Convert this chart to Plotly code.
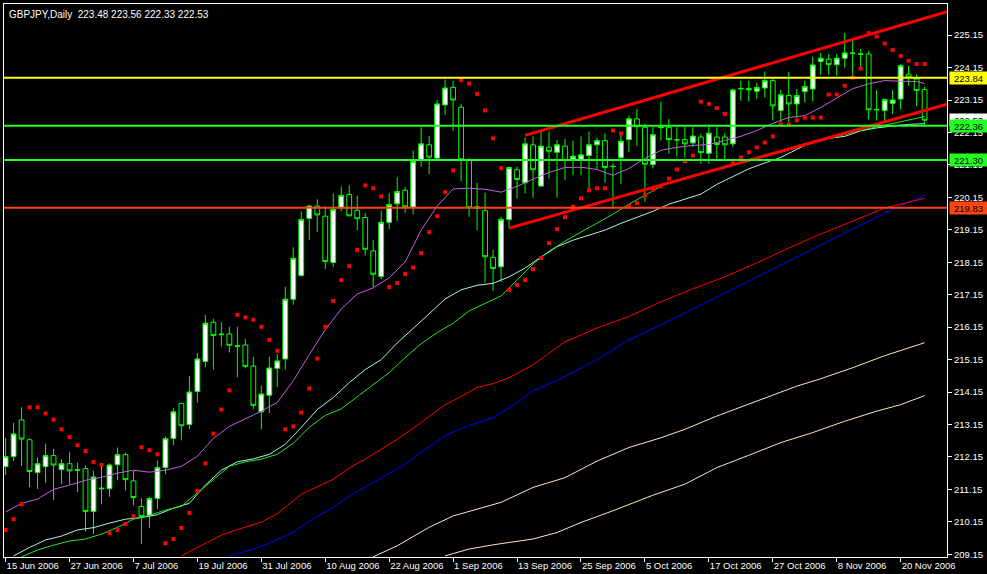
import plotly.graph_objects as go

# ---------------- data ----------------
bar_idx = list(range(116))

opens = [211.85,212.16,213.29,212.68,211.67,211.85,212.19,211.76,211.94,211.76,
         211.79,210.47,211.19,211.17,211.91,212.22,211.41,210.62,210.35,210.87,
         211.82,212.72,213.80,213.15,214.17,215.09,216.30,215.94,215.94,215.58,
         215.60,214.95,213.54,214.05,214.88,215.17,217.01,217.74,219.50,219.88,
         219.57,218.14,219.83,220.24,219.75,219.53,218.50,217.71,219.38,219.95,
         220.37,219.84,221.31,221.77,221.36,223.00,223.54,222.93,221.31,219.86,
         219.74,218.30,218.01,219.47,221.00,220.60,221.77,220.50,221.70,221.54,
         221.73,221.29,221.31,221.44,221.77,221.90,221.11,221.37,221.93,222.57,
         222.31,221.16,222.32,222.31,221.93,221.93,221.83,222.01,221.51,222.01,
         222.01,221.80,223.51,223.51,223.42,223.52,223.75,222.83,223.29,223.03,
         223.41,223.49,224.34,224.41,224.24,224.44,224.60,224.57,224.57,222.86,
         222.83,223.05,223.18,223.95,223.80,223.48]
highs = [212.74,213.20,213.68,212.72,212.13,212.56,212.40,212.08,212.31,211.97,
         211.89,211.72,211.92,211.95,212.44,212.28,211.72,210.88,210.91,212.04,
         212.78,213.66,213.82,214.65,215.36,216.53,216.41,216.30,216.16,216.16,
         215.79,215.24,214.35,215.24,215.32,217.39,218.61,219.72,219.93,220.09,
         219.88,220.27,220.49,220.52,220.21,219.67,218.83,219.75,220.27,220.77,
         220.47,221.60,222.31,222.05,223.15,223.78,223.75,223.03,221.37,220.60,
         220.30,218.53,219.55,221.10,221.10,222.00,222.03,222.23,222.18,221.92,
         221.95,221.90,222.03,222.18,221.99,222.13,221.20,222.13,222.67,222.88,
         222.42,222.33,223.10,222.57,222.31,222.33,222.31,222.11,222.40,222.31,
         222.13,223.50,223.75,223.75,223.68,224.03,223.81,223.46,224.02,223.49,
         223.75,224.48,224.60,224.57,224.57,225.21,225.01,224.72,224.67,223.46,
         223.20,223.46,224.25,224.21,223.95,223.56]
lows = [211.59,212.02,211.87,211.22,211.16,211.35,210.82,211.31,211.31,211.07,
        209.85,209.77,210.69,210.92,211.43,211.11,210.66,209.46,209.95,210.54,
        211.61,212.51,212.66,213.00,213.82,214.91,214.84,215.55,215.37,214.60,
        214.88,213.62,213.00,213.50,214.30,214.84,216.84,217.71,218.83,219.09,
        217.94,218.01,219.72,219.58,219.14,218.35,217.38,217.63,219.17,219.42,
        219.67,219.62,221.10,220.87,221.29,222.70,222.21,220.64,219.55,219.14,
        217.52,217.27,217.55,219.19,220.11,220.27,220.14,220.47,220.73,220.14,
        220.68,220.83,220.83,220.37,221.03,220.60,219.86,220.57,221.54,221.73,
        220.01,221.04,221.90,221.50,221.41,221.39,221.70,221.19,221.19,221.29,
        221.29,221.70,223.13,223.11,223.18,223.23,222.52,222.47,222.47,222.60,
        223.08,223.11,223.93,223.93,223.90,224.15,223.87,224.15,222.55,222.52,
        222.47,222.72,222.86,223.59,222.95,222.33]
closes = [212.16,212.86,212.70,211.70,211.94,212.19,211.90,211.94,211.72,211.74,
          210.47,211.53,211.17,211.90,212.22,211.45,210.90,210.31,210.87,211.82,
          212.71,213.54,213.11,214.15,215.17,216.27,215.89,215.92,215.59,215.56,
          214.94,213.74,214.09,214.89,215.11,217.01,218.27,219.47,219.88,219.61,
          218.17,219.78,220.21,219.58,219.49,218.55,217.78,219.38,219.93,220.33,
          219.86,221.26,221.80,221.39,223.03,223.52,223.15,221.31,219.83,219.81,
          218.32,217.96,219.47,221.07,220.70,221.80,221.00,221.73,221.57,221.77,
          221.29,221.42,221.46,221.77,221.90,221.07,221.10,221.88,222.57,222.33,
          221.17,222.08,222.30,221.93,221.92,221.80,222.04,221.53,222.13,221.78,
          221.77,223.46,223.50,223.46,223.54,223.75,222.97,223.31,223.03,223.29,
          223.57,224.23,224.44,224.24,224.44,224.60,224.59,224.56,222.85,222.85,
          223.16,223.15,224.21,223.85,223.44,222.53]

# Parabolic SAR
sar = [209.90,210.23,210.69,213.68,213.68,213.49,213.30,213.00,212.76,212.51,
       212.33,211.99,211.90,209.80,209.90,210.08,210.32,212.45,212.36,212.23,
       209.49,209.62,209.96,210.42,211.10,211.95,212.87,213.61,214.20,216.53,
       216.45,216.38,216.16,215.76,215.42,213.00,213.09,213.52,214.26,215.18,
       216.16,216.96,217.60,218.03,218.53,220.52,220.43,220.18,217.39,217.51,
       217.79,217.99,218.43,219.08,219.57,220.31,220.98,223.77,223.66,223.34,
       222.83,221.97,221.05,217.30,217.45,217.60,217.94,218.28,218.74,219.17,
       219.54,219.86,220.12,220.37,220.43,220.43,222.21,222.12,219.89,219.98,
       220.21,220.39,220.49,220.73,221.01,221.26,221.44,223.10,223.03,222.90,
       222.72,221.20,221.38,221.54,221.69,221.84,222.03,222.40,222.40,222.52,
       222.61,222.61,222.61,223.32,223.32,223.59,223.84,224.12,225.21,225.11,
       224.89,224.69,224.51,224.36,224.26,224.26]

# moving averages
ma_purple_x = [0,2,4,6,8,10,12,14,16,18,20,22,24,26,28,30,32,34,36,38,40,42,44,46,48,
               50,52,54,56,58,60,62,64,66,68,70,72,74,76,78,80,82,84,86,88,90,92,94,
               96,98,100,102,104,106,108,110,112,114,115]
ma_purple_y = [210.45,210.72,210.85,211.15,211.28,211.43,211.52,211.65,211.74,211.68,
               211.74,211.86,212.17,212.72,213.09,213.33,213.56,213.83,214.50,215.30,
               216.07,216.71,217.17,217.36,217.67,218.16,219.14,219.88,220.41,220.43,
               220.40,220.31,220.49,220.71,220.92,221.07,221.08,221.01,220.83,221.04,
               221.35,221.60,221.69,221.75,221.78,221.90,222.03,222.21,222.43,222.61,
               222.67,222.92,223.22,223.50,223.65,223.75,223.73,223.72,223.66]

ma_green_x = [2,4,6,8,10,12,14,16,18,20,22,24,26,28,30,32,34,36,38,40,42,44,46,48,50,
              52,54,56,58,60,62,64,66,68,70,72,74,76,78,80,82,84,86,88,90,92,94,96,
              98,100,102,104,106,108,110,112,114,115]
ma_green_y = [209.07,209.28,209.43,209.56,209.62,209.77,209.98,210.23,210.35,210.51,
              210.63,211.03,211.46,211.86,212.00,212.08,212.23,212.57,213.06,213.43,
              213.63,214.01,214.38,214.75,215.21,215.64,215.98,216.27,216.65,216.87,
              217.11,217.60,218.10,218.49,218.80,219.08,219.35,219.63,219.94,220.21,
              220.49,220.68,220.83,220.95,221.07,221.20,221.34,221.47,221.61,221.75,
              221.89,222.03,222.15,222.27,222.38,222.49,222.59,222.64]

ma_aqua_x = [1,3,5,7,9,11,13,15,17,19,21,23,25,27,29,31,33,35,37,39,41,43,45,47,49,
             51,53,55,57,59,61,63,65,67,69,71,73,75,77,79,81,83,85,87,89,91,93,95,
             97,99,101,103,105,107,109,111,113,115]
ma_aqua_y = [209.10,209.36,209.59,209.71,209.90,209.97,210.11,210.23,210.28,210.37,
             210.57,210.72,211.28,211.74,212.00,212.09,212.23,212.54,213.06,213.61,
             213.98,214.44,214.84,215.15,215.66,216.10,216.56,217.02,217.30,217.44,
             217.50,217.70,217.97,218.31,218.63,218.83,218.99,219.14,219.35,219.54,
             219.72,219.94,220.09,220.25,220.55,220.80,221.03,221.21,221.38,221.63,
             221.87,221.97,222.03,222.20,222.29,222.35,222.40,222.42]

ma_red_x = [22,24,27,29,32,34,37,41,43,46,49,52,55,57,59,61,63,66,70,74,78,82,86,90,
            94,98,102,106,110,113,115]
ma_red_y = [209.10,209.36,209.74,209.91,210.14,210.40,211.00,211.46,211.80,212.23,
            212.69,213.21,213.76,214.01,214.29,214.41,214.59,214.99,215.70,216.12,
            216.48,216.93,217.33,217.70,218.13,218.59,219.02,219.42,219.82,220.00,
            220.12]

ma_blue_x = [28,31,33,36,38,41,43,46,50,52,55,58,61,64,66,69,74,78,82,86,90,94,98,102,
             106,110,113,115]
ma_blue_y = [209.10,209.31,209.49,209.83,210.17,210.60,210.94,211.36,211.92,212.29,
             212.81,213.12,213.36,213.82,214.19,214.50,215.15,215.76,216.22,216.71,
             217.20,217.70,218.19,218.68,219.17,219.66,220.00,220.21]

ma_wheat1_x = [46,49,53,56,59,62,66,70,74,78,82,85,89,95,99,102,106,110,113,115]
ma_wheat1_y = [209.07,209.41,209.98,210.33,210.54,210.75,211.21,211.51,212.02,212.44,
               212.74,213.00,213.41,213.97,214.33,214.56,214.90,215.27,215.52,215.67]

ma_wheat2_x = [55,58,61,66,69,72,76,81,85,89,93,97,101,105,109,112,115]
ma_wheat2_y = [209.10,209.31,209.44,209.62,209.82,210.13,210.49,210.97,211.31,211.82,
               212.20,212.59,212.90,213.25,213.56,213.76,214.04]

# trend channel (anchor bars / prices)
chan_upper_x = [65, 117.8]
chan_upper_y = [222.06, 225.87]
chan_lower_x = [63, 117.8]
chan_lower_y = [219.20, 223.02]

# horizontal levels
level_yellow = 223.84
level_green = [222.36, 221.30]
level_orange = 219.83
last_price = 222.53

date_idx = [0, 8, 16, 24, 32, 40, 48, 56, 64, 72, 80, 88, 96, 104, 112]
date_labels = ["15 Jun 2006", "27 Jun 2006", "7 Jul 2006", "19 Jul 2006", "31 Jul 2006",
               "10 Aug 2006", "22 Aug 2006", "1 Sep 2006", "13 Sep 2006", "25 Sep 2006",
               "5 Oct 2006", "17 Oct 2006", "27 Oct 2006", "8 Nov 2006", "20 Nov 2006"]
price_ticks = [209.15 + k for k in range(17)]

title_text = "GBPJPY,Daily  223.48 223.56 222.33 222.53"

# ---------------- figure ----------------
FONT = "Liberation Sans, Arial, sans-serif"
FS = 9.5
LIME = "#00ff00"

fig = go.Figure()
fig.add_trace(go.Candlestick(
    x=bar_idx, open=opens, high=highs, low=lows, close=closes,
    increasing=dict(line=dict(color=LIME, width=1), fillcolor="#ffffff"),
    decreasing=dict(line=dict(color=LIME, width=1), fillcolor="#000000"),
    hoverinfo="skip"))

for xs, ys, col in [(ma_wheat2_x, ma_wheat2_y, "#ffe6c0"),
                    (ma_wheat1_x, ma_wheat1_y, "#ffe6c0"),
                    (ma_blue_x, ma_blue_y, "#0000ff"),
                    (ma_red_x, ma_red_y, "#ff0000"),
                    (ma_aqua_x, ma_aqua_y, "#a8f5e0"),
                    (ma_green_x, ma_green_y, "#22e622"),
                    (ma_purple_x, ma_purple_y, "#c060e0")]:
    fig.add_trace(go.Scatter(x=xs, y=ys, mode="lines",
                             line=dict(color=col, width=1), hoverinfo="skip"))

fig.add_trace(go.Scatter(x=bar_idx, y=sar, mode="markers",
                         marker=dict(symbol="square", size=4, color="#ff0000", line=dict(width=0)),
                         hoverinfo="skip"))

for xs, ys in [(chan_upper_x, chan_upper_y), (chan_lower_x, chan_lower_y)]:
    fig.add_trace(go.Scatter(x=xs, y=ys, mode="lines",
                             line=dict(color="#ff0000", width=3), hoverinfo="skip"))

shapes = []
for lv, col in [(level_yellow, "#ffff00"), (level_green[0], "#22ff22"),
                (level_green[1], "#22ff22"), (level_orange, "#ff4510")]:
    shapes.append(dict(type="line", xref="paper", x0=0, x1=1, yref="y", y0=lv, y1=lv,
                       line=dict(color=col, width=2), layer="above"))

annotations = [dict(text=title_text, xref="paper", yref="paper", x=0, y=1,
                    xanchor="left", yanchor="top", xshift=3, yshift=-3, showarrow=False,
                    font=dict(family=FONT, size=10, color="#ffffff"))]
for lv, bg in [(last_price, "#ffffff"), (level_yellow, "#ffff00"),
               (level_green[0], "#22ff22"), (level_green[1], "#22ff22"),
               (level_orange, "#ff4510")]:
    annotations.append(dict(text="%.2f" % lv, xref="paper", yref="y", x=1, y=lv,
                            xanchor="left", yanchor="middle", xshift=2, showarrow=False,
                            bgcolor=bg, width=37, height=12, borderpad=0,
                            font=dict(family=FONT, size=FS, color="#000000")))

fig.update_layout(
    width=987, height=574,
    paper_bgcolor="#000000", plot_bgcolor="#000000",
    margin=dict(l=3, r=40, t=3, b=16),
    showlegend=False,
    boxgap=0.25, boxgroupgap=0.2,
    shapes=shapes, annotations=annotations,
    font=dict(family=FONT, size=FS, color="#ffffff"),
    xaxis=dict(range=[-0.2, 117.8], showgrid=False, zeroline=False,
               tickvals=date_idx, ticktext=date_labels, ticks="outside", ticklen=4,
               tickcolor="#ffffff", ticklabelposition="outside right",
               showline=True, linecolor="#ffffff", linewidth=1, mirror=True,
               rangeslider=dict(visible=False),
               tickfont=dict(family=FONT, size=FS, color="#ffffff")),
    yaxis=dict(side="right", range=[209.065, 226.11], showgrid=False, zeroline=False,
               tickvals=price_ticks, ticktext=["%.2f" % v for v in price_ticks],
               ticks="outside", ticklen=4, tickcolor="#ffffff",
               showline=True, linecolor="#ffffff", linewidth=1, mirror=True,
               tickfont=dict(family=FONT, size=FS, color="#ffffff")),
)

fig.write_html("out.html", config={"displayModeBar": False},
               post_script="document.body.style.margin='0';document.body.style.background='#000';")
